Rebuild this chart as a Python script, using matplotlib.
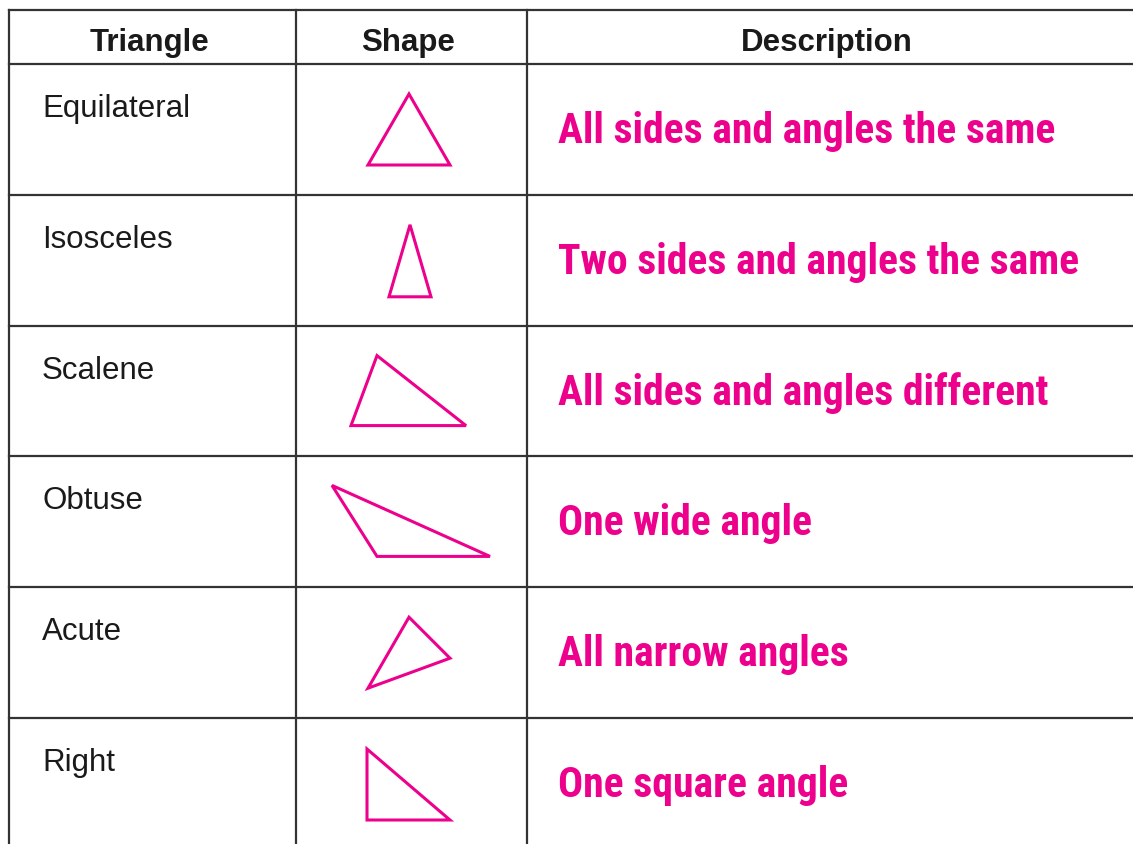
import matplotlib
matplotlib.use('Agg')
import matplotlib.pyplot as plt
from matplotlib.patches import Polygon

# table content
headers = ['Triangle', 'Shape', 'Description']
names = ['Equilateral', 'Isosceles', 'Scalene', 'Obtuse', 'Acute', 'Right']
descriptions = [
    'All sides and angles the same',
    'Two sides and angles the same',
    'All sides and angles different',
    'One wide angle',
    'All narrow angles',
    'One square angle',
]

# triangle vertices, relative to the top-left of each shape cell (pixels)
tri_equilateral = [(113, 30), (72, 101), (154, 101)]
tri_isosceles = [(114, 30), (93, 102), (135, 102)]
tri_scalene = [(81, 30), (55, 100), (170, 100)]
tri_obtuse = [(36, 29), (81, 100), (194, 100)]
tri_acute = [(113, 30), (154, 71), (72, 101)]
tri_right = [(71, 31), (71, 102), (154, 102)]
triangles = [tri_equilateral, tri_isosceles, tri_scalene, tri_obtuse, tri_acute, tri_right]

# grid geometry (pixels)
col_edges = [9, 296, 527, 1133]
header_top = 10
header_bottom = 64
row_height = 130.8

pink = '#EC008C'
line_col = '#333333'

W, H = 1133, 844
fig = plt.figure(figsize=(W / 100, H / 100), dpi=100)
ax = fig.add_axes([0, 0, 1, 1])
ax.set_xlim(0, W)
ax.set_ylim(H, 0)
ax.axis('off')

row_tops = [header_bottom + i * row_height for i in range(len(names))]

# lines
lw = 1.6
ax.plot([col_edges[0], W], [header_top, header_top], color=line_col, lw=lw)
ax.plot([col_edges[0], W], [header_bottom, header_bottom], color=line_col, lw=lw)
for y in row_tops[1:]:
    ax.plot([col_edges[0], W], [y, y], color=line_col, lw=lw)
for x in col_edges[:3]:
    ax.plot([x, x], [header_top, H + 5], color=line_col, lw=lw)

# headers
for i, h in enumerate(headers):
    cx = (col_edges[i] + col_edges[i + 1]) / 2 - 3
    ax.text(cx, 51, h, ha='center', va='baseline', fontsize=22.5,
            fontweight='bold', family='Liberation Sans', color='#1a1a1a')

for i, y0 in enumerate(row_tops):
    ax.text(42, y0 + 53, names[i], ha='left', va='baseline', fontsize=22.5,
            family='Liberation Sans', color='#1a1a1a')
    ax.text(558, y0 + 79, descriptions[i], ha='left', va='baseline', fontsize=30,
            fontweight='bold', family='Roboto Condensed', color=pink)
    pts = [(col_edges[1] + px, y0 + py) for px, py in triangles[i]]
    ax.add_patch(Polygon(pts, closed=True, fill=False, edgecolor=pink,
                         lw=2.2, joinstyle='miter'))

fig.savefig('out.png', dpi=100)
